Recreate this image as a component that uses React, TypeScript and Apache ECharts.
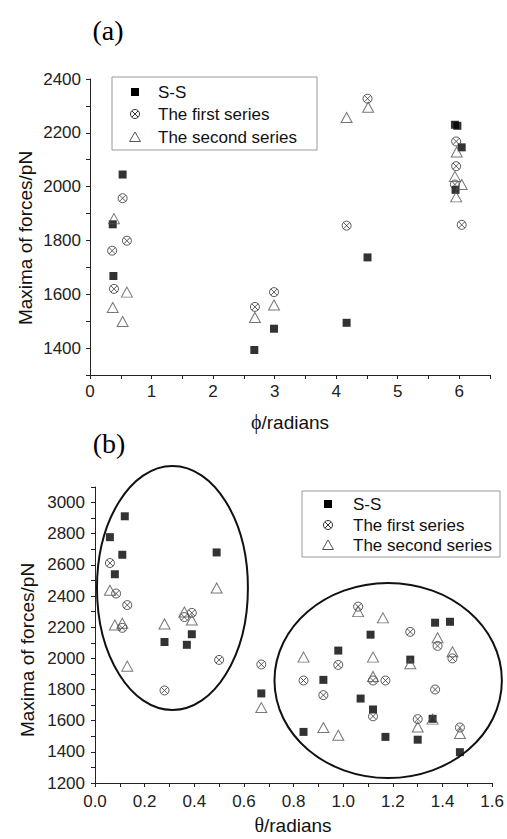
import React, { useEffect, useRef } from "react";
import * as echarts from "echarts";

// ---------- Panel (a): phi ----------
const ssA: [number, number][] = [
  [0.37, 1860], [0.53, 2045], [0.38, 1668], [2.67, 1393], [2.99, 1472],
  [4.17, 1494], [4.51, 1737], [5.93, 2230], [5.97, 2226], [6.04, 2146], [5.94, 1988],
];
const firstA: [number, number][] = [
  [0.36, 1762], [0.53, 1957], [0.6, 1799], [0.39, 1620], [2.68, 1553], [2.99, 1608],
  [4.17, 1855], [4.51, 2327], [5.95, 2168], [5.95, 2076], [5.93, 2008], [6.04, 1858],
];
const secondA: [number, number][] = [
  [0.39, 1881], [0.37, 1551], [0.53, 1499], [0.6, 1608], [2.68, 1514], [2.99, 1560],
  [4.17, 2257], [4.52, 2295], [5.96, 2129], [5.93, 2038], [6.04, 2008], [5.95, 1962],
];

// ---------- Panel (b): theta ----------
const ssB: [number, number][] = [
  [0.12, 2912], [0.06, 2778], [0.11, 2665], [0.08, 2540], [0.49, 2680], [0.28, 2105],
  [0.39, 2155], [0.37, 2087], [0.67, 1775], [1.11, 2152], [1.37, 2229], [1.43, 2235],
  [0.98, 2050], [1.27, 1992], [0.92, 1862], [1.07, 1742], [1.12, 1672], [0.84, 1528],
  [1.17, 1496], [1.3, 1478], [1.47, 1398], [1.36, 1612],
];
const firstB: [number, number][] = [
  [0.06, 2612], [0.085, 2416], [0.13, 2342], [0.39, 2292], [0.36, 2265], [0.11, 2196],
  [0.5, 1990], [0.28, 1794], [0.67, 1961], [1.06, 2332], [1.27, 2170], [1.38, 2080],
  [1.44, 2000], [0.98, 1958], [0.84, 1858], [1.12, 1858], [1.17, 1858], [0.92, 1764],
  [1.37, 1800], [1.12, 1628], [1.3, 1610], [1.47, 1556],
];
const secondB: [number, number][] = [
  [0.06, 2437], [0.49, 2452], [0.36, 2298], [0.39, 2246], [0.08, 2214], [0.11, 2225],
  [0.28, 2221], [0.13, 1950], [0.67, 1684], [1.06, 2300], [1.16, 2260], [1.38, 2132],
  [1.44, 2042], [0.84, 2008], [1.12, 2008], [1.27, 1966], [1.12, 1884], [0.92, 1556],
  [0.98, 1506], [1.3, 1560], [1.36, 1610], [1.47, 1518],
];

// cluster ellipses in data units of panel (b)
const ellipseLeft = { cx: 0.312, cy: 2452, rx: 0.304, ry: 783 };
const ellipseRight = { cx: 1.181, cy: 1858, rx: 0.458, ry: 626 };

const seriesNames = ["S-S", "The first series", "The second series"];
const xTitleA = "ϕ";
const xTitleB = "θ";
const yTitle = "Maxima of forces/pN";

const CROSS_CIRCLE =
  "path://M0,5 A5,5 0 1,1 10,5 A5,5 0 1,1 0,5 Z M1.46,1.46 L8.54,8.54 M8.54,1.46 L1.46,8.54";

const FONT = "Liberation Sans, Arial, sans-serif";
const SERIF = "Liberation Serif, Times New Roman, serif";

function makeSeries(idx: number, ss: any, first: any, second: any) {
  return [
    {
      name: seriesNames[0], type: "scatter", xAxisIndex: idx, yAxisIndex: idx, data: ss,
      symbol: "rect", symbolSize: 8, itemStyle: { color: "#000" }, z: 3,
    },
    {
      name: seriesNames[1], type: "scatter", xAxisIndex: idx, yAxisIndex: idx, data: first,
      symbol: CROSS_CIRCLE, symbolSize: 9,
      itemStyle: { color: "rgba(0,0,0,0)", borderColor: "#333", borderWidth: 1 }, z: 4,
    },
    {
      name: seriesNames[2], type: "scatter", xAxisIndex: idx, yAxisIndex: idx, data: second,
      symbol: "triangle", symbolSize: [11, 10],
      itemStyle: { color: "rgba(0,0,0,0)", borderColor: "#555", borderWidth: 1 }, z: 5,
    },
  ];
}

const axisCommon = {
  axisLine: { show: true, lineStyle: { color: "#222", width: 1 } },
  axisTick: { show: true, length: 4, lineStyle: { color: "#222" } },
  splitLine: { show: false },
};

function legendGraphic(x0: number, y0: number, w: number, h: number, ys: number[], symX: number, textX: number) {
  const els: any[] = [
    { type: "rect", shape: { x: x0, y: y0, width: w, height: h }, style: { fill: "#fff", stroke: "#999", lineWidth: 1 }, z: 10 },
    { type: "rect", shape: { x: symX - 4, y: ys[0] - 4, width: 8, height: 8 }, style: { fill: "#000" }, z: 11 },
    { type: "circle", shape: { cx: symX, cy: ys[1], r: 4.5 }, style: { fill: "none", stroke: "#333", lineWidth: 1 }, z: 11 },
    { type: "line", shape: { x1: symX - 3.2, y1: ys[1] - 3.2, x2: symX + 3.2, y2: ys[1] + 3.2 }, style: { stroke: "#333", lineWidth: 1 }, z: 11 },
    { type: "line", shape: { x1: symX + 3.2, y1: ys[1] - 3.2, x2: symX - 3.2, y2: ys[1] + 3.2 }, style: { stroke: "#333", lineWidth: 1 }, z: 11 },
    {
      type: "polygon",
      shape: { points: [[symX, ys[2] - 5], [symX + 5.5, ys[2] + 4.5], [symX - 5.5, ys[2] + 4.5]] },
      style: { fill: "none", stroke: "#555", lineWidth: 1 }, z: 11,
    },
  ];
  seriesNames.forEach((n, i) => {
    els.push({
      type: "text", x: textX, y: ys[i], z: 11,
      style: { text: n, fill: "#111", fontSize: 17, fontFamily: FONT, align: "left", verticalAlign: "middle" },
    });
  });
  return els;
}

export default function App() {
  const ref = useRef<HTMLDivElement>(null);
  useEffect(() => {
    document.body.style.margin = "0";
    const chart = echarts.init(ref.current!, null, { renderer: "svg" });
    const option: any = {
      animation: false,
      backgroundColor: "#fff",
      grid: [
        { left: 90, top: 79, width: 400, height: 296 },
        { left: 95, top: 487, width: 400, height: 296 },
      ],
      xAxis: [
        {
          type: "value", gridIndex: 0, min: 0, max: 6.5, interval: 0.5, ...axisCommon,
          axisLabel: {
            margin: 8, fontSize: 17, fontFamily: FONT, color: "#222",
            formatter: (v: number) => (Math.abs(v - Math.round(v)) < 1e-6 ? String(Math.round(v)) : ""),
          },
        },
        {
          type: "value", gridIndex: 1, min: 0, max: 1.6, interval: 0.1, ...axisCommon,
          axisLabel: {
            margin: 10, fontSize: 17, fontFamily: FONT, color: "#222",
            formatter: (v: number) => (Math.round(v * 10) % 2 === 0 ? v.toFixed(1) : ""),
          },
        },
      ],
      yAxis: [
        {
          type: "value", gridIndex: 0, min: 1300, max: 2400, interval: 100, ...axisCommon,
          axisLabel: {
            margin: 9, fontSize: 17, fontFamily: FONT, color: "#222",
            formatter: (v: number) => (Math.round(v) % 200 === 0 ? String(Math.round(v)) : ""),
          },
        },
        {
          type: "value", gridIndex: 1, min: 1200, max: 3100, interval: 100, ...axisCommon,
          axisLabel: {
            margin: 10, fontSize: 17, fontFamily: FONT, color: "#222",
            formatter: (v: number) => (Math.round(v) % 200 === 0 && v < 3050 ? String(Math.round(v)) : ""),
          },
        },
      ],
      series: [...makeSeries(0, ssA, firstA, secondA), ...makeSeries(1, ssB, firstB, secondB)],
    };
    chart.setOption(option);

    const toPx = (e: { cx: number; cy: number; rx: number; ry: number }) => {
      const c = chart.convertToPixel({ gridIndex: 1 } as any, [e.cx, e.cy]) as number[];
      const r = chart.convertToPixel({ gridIndex: 1 } as any, [e.cx + e.rx, e.cy + e.ry]) as number[];
      return { cx: c[0], cy: c[1], rx: Math.abs(r[0] - c[0]), ry: Math.abs(r[1] - c[1]) };
    };

    const graphics: any[] = [
      { type: "text", x: 108, y: 30, style: { text: "(a)", fontSize: 28, fontFamily: SERIF, fill: "#000", align: "center", verticalAlign: "middle" } },
      { type: "text", x: 109, y: 443, style: { text: "(b)", fontSize: 28, fontFamily: SERIF, fill: "#000", align: "center", verticalAlign: "middle" } },
      {
        type: "text", x: 290, y: 422,
        style: {
          text: "{g|" + xTitleA + "}/radians", fontSize: 19, fontFamily: FONT, fill: "#111", align: "center", verticalAlign: "middle",
          rich: { g: { fontFamily: SERIF, fontSize: 20, fill: "#111" } },
        },
      },
      {
        type: "text", x: 293, y: 825,
        style: {
          text: "{g|" + xTitleB + "}/radians", fontSize: 19, fontFamily: FONT, fill: "#111", align: "center", verticalAlign: "middle",
          rich: { g: { fontFamily: SERIF, fontSize: 20, fill: "#111" } },
        },
      },
      {
        type: "text", x: 25, y: 238, rotation: Math.PI / 2,
        style: { text: yTitle, fontSize: 19, fontFamily: FONT, fill: "#111", align: "center", verticalAlign: "middle" },
      },
      {
        type: "text", x: 27, y: 650, rotation: Math.PI / 2,
        style: { text: yTitle, fontSize: 19, fontFamily: FONT, fill: "#111", align: "center", verticalAlign: "middle" },
      },
      ...legendGraphic(112, 77, 205, 73, [92, 114, 137], 135, 158),
      ...legendGraphic(302, 491, 198, 66, [504, 525, 545], 328, 353),
    ];
    [ellipseLeft, ellipseRight].forEach((e) => {
      const p = toPx(e);
      graphics.push({
        type: "ellipse", shape: { cx: p.cx, cy: p.cy, rx: p.rx, ry: p.ry },
        style: { fill: "none", stroke: "#111", lineWidth: 2 }, z: 8,
      });
    });
    chart.setOption({ graphic: graphics });

    return () => chart.dispose();
  }, []);
  return <div ref={ref} style={{ width: 507, height: 839 }} />;
}
